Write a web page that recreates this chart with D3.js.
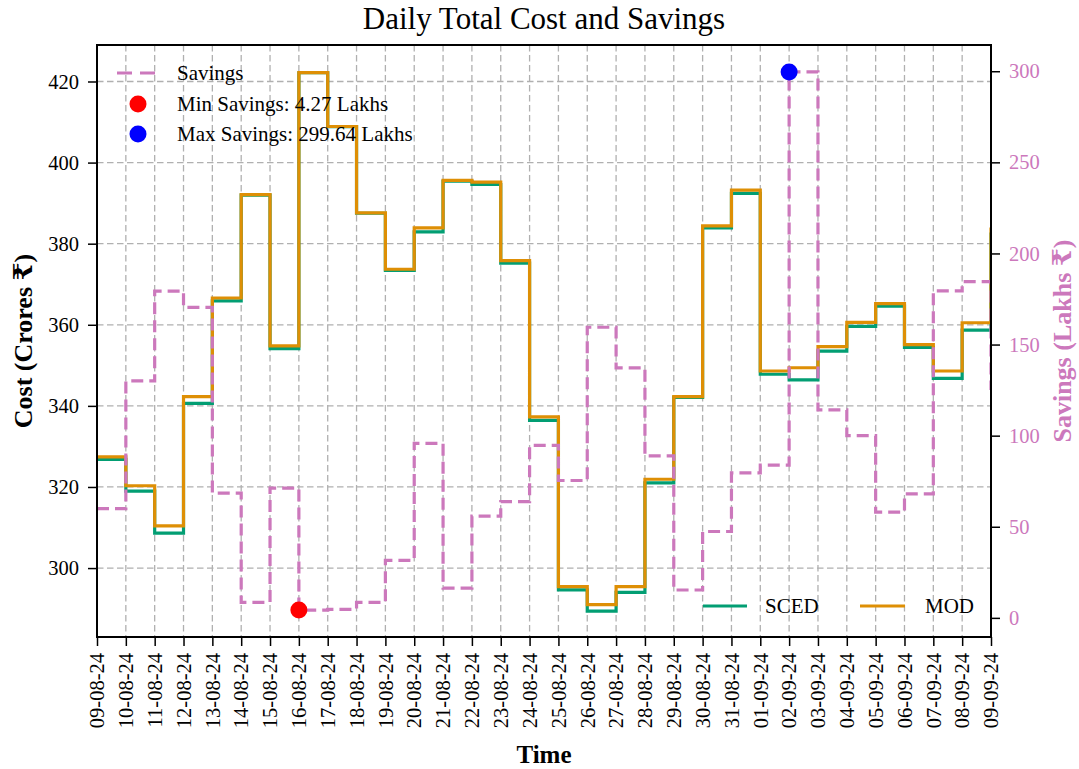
<!DOCTYPE html>
<html>
<head>
<meta charset="utf-8">
<script src="https://cdn.jsdelivr.net/npm/d3@7"></script>
<style>
  html, body { margin: 0; padding: 0; background: #fff; }
  svg { display: block; font-family: "Liberation Serif", "Times New Roman", "DejaVu Serif", serif; }
</style>
</head>
<body>
<svg id="chart" width="1079" height="769"></svg>
<script>
// ---- data ----
const dates = ["09-08-24","10-08-24","11-08-24","12-08-24","13-08-24","14-08-24","15-08-24","16-08-24",
  "17-08-24","18-08-24","19-08-24","20-08-24","21-08-24","22-08-24","23-08-24","24-08-24","25-08-24",
  "26-08-24","27-08-24","28-08-24","29-08-24","30-08-24","31-08-24","01-09-24","02-09-24","03-09-24",
  "04-09-24","05-09-24","06-09-24","07-09-24","08-09-24","09-09-24"];
const modCost = [327.4, 320.3, 310.4, 342.3, 366.6, 392.1, 354.8, 422.2, 408.9, 387.6, 373.7, 383.9,
  395.6, 395.2, 375.8, 337.3, 295.4, 291.0, 295.4, 321.9, 342.3, 384.4, 393.2, 348.6, 349.4, 354.6,
  360.6, 365.2, 355.1, 348.6, 360.5, 384.0];
const scedCost = [326.8, 319.0, 308.6, 340.6, 365.9, 392.0, 354.1, 422.16, 408.85, 387.5, 373.4, 382.9,
  395.4, 394.6, 375.2, 336.4, 294.6, 289.4, 294.0, 321.0, 342.1, 383.9, 392.4, 347.8, 346.4, 353.5,
  359.6, 364.6, 354.4, 346.8, 358.7, 382.75];
const savings = [60.0, 130.1, 179.3, 170.4, 68.5, 8.5, 71.2, 4.27, 4.7, 8.5, 31.6, 95.8, 16.3, 55.8,
  63.8, 94.7, 75.4, 159.5, 137.2, 88.9, 15.3, 47.4, 79.6, 83.8, 299.64, 114.1, 100.0, 58.0, 68.1,
  179.5, 184.5, 125.0];
const costTicks = [300, 320, 340, 360, 380, 400, 420];
const savingsTicks = [0, 50, 100, 150, 200, 250, 300];
const minIdx = 7, maxIdx = 24;

// ---- layout ----
const svg = d3.select("#chart");
const L = 97, R = 991, T = 45, B = 637;
const pink = "#CC78BC", orange = "#DE8F05", green = "#029E73";

const x = d3.scalePoint().domain(dates).range([L, R]);
const y = d3.scaleLinear().domain([283, 429]).range([B, T]);
const y2 = d3.scaleLinear().domain([-10.5, 314.4]).range([B, T]);

svg.append("defs").append("clipPath").attr("id", "clip")
  .append("rect").attr("x", L).attr("y", T).attr("width", R - L).attr("height", B - T);

// grid
const grid = svg.append("g").attr("stroke", "#b0b0b0").attr("stroke-width", 1.3)
  .attr("stroke-dasharray", "6.5,3.5");
dates.forEach(d => grid.append("line").attr("x1", x(d)).attr("x2", x(d)).attr("y1", T).attr("y2", B));
costTicks.forEach(v => grid.append("line").attr("x1", L).attr("x2", R).attr("y1", y(v)).attr("y2", y(v)));

// lines
const plot = svg.append("g").attr("clip-path", "url(#clip)");
const lineCost = d3.line().curve(d3.curveStepAfter).x((d, i) => x(dates[i])).y(d => y(d));
const lineSav = d3.line().curve(d3.curveStepAfter).x((d, i) => x(dates[i])).y(d => y2(d));
plot.append("path").attr("d", lineCost(scedCost)).attr("fill", "none").attr("stroke", green).attr("stroke-width", 3.2);
plot.append("path").attr("d", lineCost(modCost)).attr("fill", "none").attr("stroke", orange).attr("stroke-width", 3.2);
plot.append("path").attr("d", lineSav(savings)).attr("fill", "none").attr("stroke", pink)
  .attr("stroke-width", 3.2).attr("stroke-dasharray", "12,6");

// min / max markers
svg.append("circle").attr("cx", x(dates[minIdx])).attr("cy", y2(savings[minIdx])).attr("r", 8.5).attr("fill", "#ff0000");
svg.append("circle").attr("cx", x(dates[maxIdx])).attr("cy", y2(savings[maxIdx])).attr("r", 8.5).attr("fill", "#0000ff");

// axes
const fs = "20.5px";
const axL = svg.append("g").attr("transform", `translate(${L},0)`)
  .call(d3.axisLeft(y).tickValues(costTicks).tickSize(9).tickPadding(9));
const axR = svg.append("g").attr("transform", `translate(${R},0)`)
  .call(d3.axisRight(y2).tickValues(savingsTicks).tickSize(9).tickPadding(9));
const axB = svg.append("g").attr("transform", `translate(0,${B})`)
  .call(d3.axisBottom(x).tickSize(9).tickPadding(10));
[axL, axR, axB].forEach(a => {
  a.select(".domain").remove();
  a.selectAll(".tick line").attr("stroke", "#000").attr("stroke-width", 1.5);
  a.selectAll(".tick text").attr("font-size", fs).attr("font-family", "Liberation Serif").attr("fill", "#000");
});
axR.selectAll(".tick text").attr("fill", pink);
axB.selectAll(".tick text")
  .attr("transform", "rotate(-90)")
  .attr("text-anchor", "end")
  .attr("x", -16).attr("y", 0).attr("dy", "0.33em");

// frame
svg.append("rect").attr("x", L).attr("y", T).attr("width", R - L).attr("height", B - T)
  .attr("fill", "none").attr("stroke", "#000").attr("stroke-width", 2);

// title & labels
svg.append("text").attr("x", (L + R) / 2).attr("y", 29).attr("text-anchor", "middle")
  .attr("font-size", "31px").text("Daily Total Cost and Savings");
svg.append("text").attr("x", (L + R) / 2).attr("y", 763).attr("text-anchor", "middle")
  .attr("font-size", "25px").attr("font-weight", "bold").text("Time");
svg.append("text").attr("transform", `translate(32,${(T + B) / 2}) rotate(-90)`).attr("text-anchor", "middle")
  .attr("font-size", "26px").attr("font-weight", "bold").text("Cost (Crores ₹)");
svg.append("text").attr("transform", `translate(1071,${(T + B) / 2}) rotate(-90)`).attr("text-anchor", "middle")
  .attr("font-size", "26px").attr("font-weight", "bold").attr("fill", pink).text("Savings (Lakhs ₹)");

// legend top-left
const lg = svg.append("g").attr("font-size", "21px");
lg.append("line").attr("x1", 117).attr("x2", 161).attr("y1", 73).attr("y2", 73)
  .attr("stroke", pink).attr("stroke-width", 3).attr("stroke-dasharray", "15,8");
lg.append("text").attr("x", 177).attr("y", 80).text("Savings");
lg.append("circle").attr("cx", 138).attr("cy", 104).attr("r", 8.5).attr("fill", "#ff0000");
lg.append("text").attr("x", 177).attr("y", 111).text("Min Savings: 4.27 Lakhs");
lg.append("circle").attr("cx", 138).attr("cy", 134).attr("r", 8.5).attr("fill", "#0000ff");
lg.append("text").attr("x", 177).attr("y", 141).text("Max Savings: 299.64 Lakhs");

// legend bottom-right
const lg2 = svg.append("g").attr("font-size", "21px");
lg2.append("line").attr("x1", 703).attr("x2", 747).attr("y1", 606).attr("y2", 606).attr("stroke", green).attr("stroke-width", 3);
lg2.append("text").attr("x", 765).attr("y", 613).text("SCED");
lg2.append("line").attr("x1", 860).attr("x2", 905).attr("y1", 606).attr("y2", 606).attr("stroke", orange).attr("stroke-width", 3);
lg2.append("text").attr("x", 925).attr("y", 613).text("MOD");
</script>
</body>
</html>
